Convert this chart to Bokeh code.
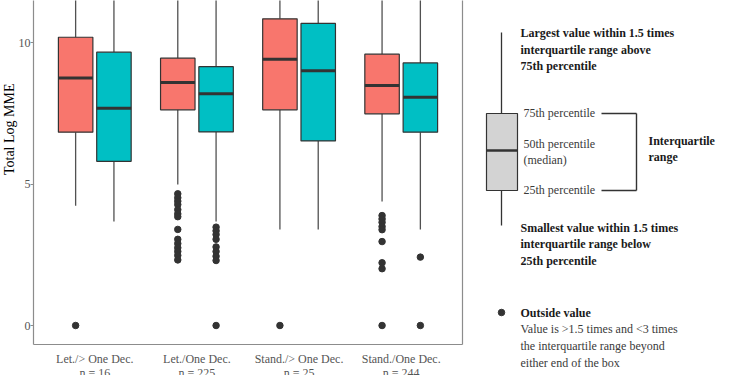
from bokeh.plotting import figure
from bokeh.models import Range1d, FixedTicker, ColumnDataSource, LinearAxis, Title
from bokeh.layouts import row
from bokeh.embed import file_html
from bokeh.resources import INLINE
from bokeh.core.properties import value

# ---------------- data ----------------
groups = ["Let./> One Dec.", "Let./One Dec.", "Stand./> One Dec.", "Stand./One Dec."]
group_n = [16, 225, 25, 244]

red_q1 = [6.84, 7.63, 7.63, 7.49]
red_median = [8.76, 8.60, 9.42, 8.49]
red_q3 = [10.20, 9.46, 10.85, 9.60]
red_low = [4.24, 4.99, 3.40, 4.39]
red_high = [13.3, 12.6, 13.8, 12.8]
red_outliers = [
    [0.0],
    [4.66, 4.52, 4.40, 4.28, 4.10, 3.95, 3.85, 3.40, 3.05, 2.90, 2.75, 2.62, 2.48, 2.32],
    [0.0],
    [3.89, 3.77, 3.65, 3.50, 3.39, 2.97, 2.22, 2.01, 0.0],
]

teal_q1 = [5.81, 6.85, 6.53, 6.84]
teal_median = [7.69, 8.20, 9.01, 8.08]
teal_q3 = [9.67, 9.16, 10.69, 9.29]
teal_low = [3.68, 3.68, 3.40, 3.40]
teal_high = [13.0, 12.4, 13.6, 12.5]
teal_outliers = [
    [],
    [3.48, 3.35, 3.22, 3.05, 2.78, 2.62, 2.45, 2.30, 0.0],
    [],
    [2.42, 0.0],
]

y_ticks = [0, 5, 10]

# ---------------- style ----------------
RED = "#F8766D"
TEAL = "#00BFC4"
DARK = "#333333"
FRAME = "#8c8c8c"
SERIF = "Liberation Serif"
DODGE = 0.1875
BOXW = 0.3375

p = figure(frame_width=429, frame_height=344, output_backend="svg", toolbar_location=None,
           x_range=Range1d(0.4, 4.6), y_range=Range1d(-0.672, 11.50),
           min_border_left=30, min_border_right=4, min_border_top=0, min_border_bottom=0)
p.grid.visible = False
p.outline_line_color = None
p.background_fill_color = "white"

def add_series(offset, q1, med, q3, low, high, outs, color):
    xs = [i + 1 + offset for i in range(len(groups))]
    src = ColumnDataSource(dict(x=xs, q1=q1, med=med, q3=q3, low=low, high=high,
                                x0=[x - BOXW / 2 for x in xs], x1=[x + BOXW / 2 for x in xs]))
    p.segment(x0="x", y0="q3", x1="x", y1="high", source=src, line_color=DARK, line_width=1.3, line_alpha=0.85)
    p.segment(x0="x", y0="q1", x1="x", y1="low", source=src, line_color=DARK, line_width=1.3, line_alpha=0.85)
    p.vbar(x="x", width=BOXW, bottom="q1", top="q3", source=src, fill_color=color,
           line_color=DARK, line_width=1.2)
    p.segment(x0="x0", y0="med", x1="x1", y1="med", source=src, line_color=DARK, line_width=3)
    ox, oy = [], []
    for x, vals in zip(xs, outs):
        ox += [x] * len(vals)
        oy += vals
    p.scatter(ox, oy, size=6.5, fill_color=DARK, line_color=DARK)

add_series(-DODGE, red_q1, red_median, red_q3, red_low, red_high, red_outliers, RED)
add_series(DODGE, teal_q1, teal_median, teal_q3, teal_low, teal_high, teal_outliers, TEAL)

p.xaxis.ticker = FixedTicker(ticks=[i + 1 for i in range(len(groups))])
p.xaxis.major_label_overrides = {i + 1: f"{g}\nn = {n}" for i, (g, n) in enumerate(zip(groups, group_n))}
p.xaxis.major_tick_line_color = None
p.xaxis.minor_tick_line_color = None
p.xaxis.axis_line_color = FRAME
p.xaxis.axis_line_width = 1.2
p.xaxis.major_tick_out = 0
p.xaxis.major_tick_in = 0
p.xaxis.major_label_standoff = 7
p.xaxis.major_label_text_line_height = 1.0
p.yaxis.ticker = FixedTicker(ticks=y_ticks)
p.yaxis.minor_tick_line_color = None
p.yaxis.major_tick_in = 0
p.yaxis.major_tick_out = 3
p.yaxis.major_tick_line_color = FRAME
p.yaxis.axis_line_color = FRAME
p.yaxis.axis_line_width = 1.2
p.yaxis.major_label_standoff = 0
for ax in (p.xaxis, p.yaxis):
    ax.major_label_text_font = SERIF
    ax.major_label_text_font_size = "12px"
    ax.major_label_text_color = "#555555"

# right spine
right_ax = LinearAxis(ticker=FixedTicker(ticks=[]), axis_line_color=FRAME, axis_line_width=1.2,
                      major_tick_line_color=None, minor_tick_line_color=None,
                      major_label_text_font_size="0px", major_tick_out=0, major_tick_in=0,
                      major_label_standoff=0)
p.add_layout(right_ax, "right")

# y axis title (placed as in the source, above the panel centre)
ytitle = Title(text="Total Log MME", align="right", offset=83, standoff=-2,
               text_font=SERIF, text_font_style="normal", text_font_size="14px", text_color="black")
p.add_layout(ytitle, "left")

# ---------------- explanatory key ----------------
k = figure(frame_width=282, frame_height=375, output_backend="svg", toolbar_location=None,
           x_range=Range1d(468, 750), y_range=Range1d(375, 0),
           min_border=0, min_border_left=0, min_border_right=0, min_border_top=0, min_border_bottom=0)
k.axis.visible = False
k.grid.visible = False
k.outline_line_color = None

k.segment(x0=[503, 503], y0=[32, 190], x1=[503, 503], y1=[113, 225], line_color=DARK, line_width=1.3)
k.quad(left=[488], right=[519], top=[113], bottom=[190], fill_color="#d3d3d3", line_color=DARK, line_width=1.2)
k.segment(x0=[488], y0=[150], x1=[519], y1=[150], line_color=DARK, line_width=2.5)
k.segment(x0=[603, 638, 603], y0=[113, 113, 190], x1=[638, 638, 638], y1=[113, 190, 190],
          line_color=DARK, line_width=1.4)
k.scatter([503], [312], size=6.5, fill_color=DARK, line_color=DARK)

bold_txt = ["Largest value within 1.5 times", "interquartile range above", "75th percentile",
            "Interquartile", "range",
            "Smallest value within 1.5 times", "interquartile range below", "25th percentile",
            "Outside value"]
bold_x = [522, 522, 522, 650, 650, 522, 522, 522, 522]
bold_y = [32, 49, 65, 140, 156, 227, 243, 260, 312]
norm_txt = ["75th percentile", "50th percentile", "(median)", "25th percentile",
            "Value is >1.5 times and <3 times", "the interquartile range beyond", "either end of the box"]
norm_x = [525, 525, 525, 525, 522, 522, 522]
norm_y = [112, 143, 159, 189, 328, 345, 362]

k.text(bold_x, bold_y, text=bold_txt, text_font=value(SERIF), text_font_style="bold",
       text_font_size="12px", text_color="#1a1a1a", text_baseline="middle", text_align="left")
k.text(norm_x, norm_y, text=norm_txt, text_font=value(SERIF), text_font_style="normal",
       text_font_size="12px", text_color="#3a3a3a", text_baseline="middle", text_align="left")

layout = row(p, k)

open("out.html", "w").write(file_html(layout, INLINE))
